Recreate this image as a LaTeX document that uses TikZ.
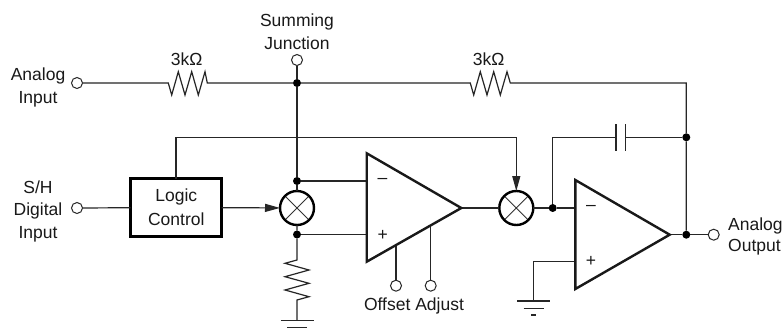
\documentclass[tikz,border=0pt]{standalone}
\usepackage{fontspec}
\setmainfont{Liberation Sans}
\usetikzlibrary{arrows.meta,calc}
\tikzset{
  wire/.style={line width=1.2pt,draw=black!85,line join=miter},
  thick box/.style={line width=2.4pt,draw=black!90},
  term/.style={circle,draw=black!85,line width=1pt,fill=white,minimum size=11pt,inner sep=0pt,outer sep=0pt},
  dot/.style={circle,fill=black,minimum size=8pt,inner sep=0pt,outer sep=0pt},
  mux/.style={circle,draw=black,line width=2.4pt,minimum size=34pt,inner sep=0pt,outer sep=0pt,
    path picture={\draw[line width=0.9pt,draw=black!80] (path picture bounding box.south west) -- (path picture bounding box.north east)
      (path picture bounding box.north west) -- (path picture bounding box.south east);}},
  logicbox/.style={draw=black,line width=2.4pt,minimum width=91pt,minimum height=58pt,inner sep=0pt,outer sep=0pt},
  lbl/.style={anchor=base,inner sep=0pt,font=\fontsize{17.5pt}{21pt}\selectfont,text=black!90},
  sign/.style={inner sep=0pt,font=\fontsize{17.5pt}{21pt}\selectfont,text=black!90},
  arr/.style={wire,-{Stealth[length=15pt,width=8pt,inset=0pt]}},
}
\begin{document}
\begin{tikzpicture}[x=1pt,y=-1pt]
\useasboundingbox[fill=white] (0,0) rectangle (784,330);
% terminals and dots
\node[term] (ai) at (77,83) {};
\node[term] (sj) at (297,60) {};
\node[term] (sh) at (77,208) {};
\node[term] (oa1) at (396,285.7) {};
\node[term] (oa2) at (430.7,285.7) {};
\node[term] (out) at (713.7,234.7) {};
\node[dot] (d1) at (297,83) {};
\node[dot] (d2) at (297,181) {};
\node[dot] (d3) at (297,234.5) {};
\node[dot] (d4) at (552.7,208) {};
\node[dot] (d5) at (686.3,137.3) {};
\node[dot] (d6) at (686.3,234.7) {};
\node[mux] (m1) at (297,208) {};
\node[mux] (m2) at (516.3,208) {};
\node[logicbox] (lc) at (176,207.5) {};
% op amps
\coordinate (a1t) at (366.7,153.3);
\coordinate (a1b) at (366.7,261.7);
\coordinate (a1o) at (461.3,208);
\coordinate (a2t) at (575.3,180);
\coordinate (a2b) at (575.3,289);
\coordinate (a2o) at (669.7,234.7);
\coordinate (a1m) at (366.7,181);
\coordinate (a1p) at (366.7,234.5);
\coordinate (a2m) at (575.3,208);
\coordinate (a2p) at (575.3,261.7);
\coordinate (e1) at (396,245);
\coordinate (e2) at (430.7,225.4);
% wires
\coordinate (r1s) at (168.3,83);
\coordinate (r1e) at (207.3,83);
\coordinate (r2s) at (470.3,83);
\coordinate (r2e) at (510.3,83);
\coordinate (r3s) at (297,260);
\coordinate (r3e) at (297,300);
\coordinate (g1) at (297,320.3);
\coordinate (g2) at (533.7,301);
\coordinate (c1) at (616,137.3);
\coordinate (c2) at (625.3,137.3);
\coordinate (lt) at (176,137.3);
\coordinate (lr) at (516.3,137.3);
\coordinate (tr) at (686.3,83);
\coordinate (pc) at (533.7,261.7);
\coordinate (cl) at (552.7,137.3);
\draw[wire] (ai) -- (r1s) -- ++(3.4,12) -- ++(6.6,-23.3) -- ++(6.7,23.3) -- ++(6.7,-23.3) -- ++(6.6,23.3) -- ++(6.7,-23.3) -- (r1e) -- (d1);
\draw[wire] (d1) -- (r2s) -- ++(3.4,12) -- ++(6.6,-23.3) -- ++(6.7,23.3) -- ++(6.7,-23.3) -- ++(6.6,23.3) -- ++(6.7,-23.3) -- (r2e) -- (tr) -- (d5) -- (d6);
\draw[wire] (sj) -- (d1) -- (d2) -- (m1);
\draw[wire] (d2) -- (a1m);
\draw[wire] (m1) -- (d3) -- (r3s) -- ++(-12,3.3) -- ++(24,6.7) -- ++(-24,6.7) -- ++(24,6.6) -- ++(-24,6.7) -- ++(24,6.7) -- (r3e) -- (g1);
\draw[wire] (d3) -- (a1p);
\draw[wire] (sh) -- (lc);
\draw[arr] (lc) -- (m1);
\draw[arr] (lc.north) -- (lt) -- (lr) -- (m2);
\draw[wire] (a1o) -- (m2);
\draw[wire] (m2) -- (d4) -- (a2m);
\draw[wire] (d4) -- (cl) -- (c1);
\draw[wire] (c2) -- (d5);
\draw[wire] (c1) ++(0,-13.3) -- ++(0,27);
\draw[wire] (c2) ++(0,-13.3) -- ++(0,27);
\draw[wire] (a2o) -- (d6) -- (out);
\draw[wire] (oa1) -- (e1);
\draw[wire] (oa2) -- (e2);
\draw[wire] (a2p) -- (pc) -- (g2);
% grounds
\draw[wire] (g1) ++(-16.5,0) -- ++(33,0);
\draw[wire] (g1) ++(-10,7.4) -- ++(20,0);
\draw[wire] (g2) ++(-16.5,0) -- ++(33,0);
\draw[wire] (g2) ++(-10,7.3) -- ++(20,0);
\draw[wire] (g2) ++(-2.5,14) -- ++(5,0);
% op amps on top
\draw[thick box,miter limit=10] (a1t) -- (a1o) -- (a1b) -- cycle;
\draw[thick box,miter limit=10] (a2t) -- (a2o) -- (a2b) -- cycle;
% labels
\node[lbl] (t1) at (297,26) {Summing};
\node[lbl] (t2) at (297,49.3) {Junction};
\node[lbl] (t3) at (186.7,65.7) {3kΩ};
\node[lbl] (t4) at (488.7,65.7) {3kΩ};
\node[lbl] (t5) at (38,80) {Analog};
\node[lbl] (t6) at (38,103.3) {Input};
\node[lbl] (t7) at (38,193.3) {S/H};
\node[lbl] (t8) at (38,215.7) {Digital};
\node[lbl] (t9) at (38,238.3) {Input};
\node[lbl] (t10) at (176.3,201.7) {Logic};
\node[lbl] (t11) at (176.3,225) {Control};
\node[lbl] (t12) at (414,310.7) {Offset Adjust};
\node[lbl,anchor=base west] (t13) at (728,230) {Analog};
\node[lbl,anchor=base west] (t14) at (728,251.7) {Output};
\node[sign] (s1) at (382.5,181) {–};
\node[sign] (s2) at (382.7,235) {+};
\node[sign] (s3) at (591,208) {–};
\node[sign] (s4) at (591,261.7) {+};
\end{tikzpicture}
\end{document}
